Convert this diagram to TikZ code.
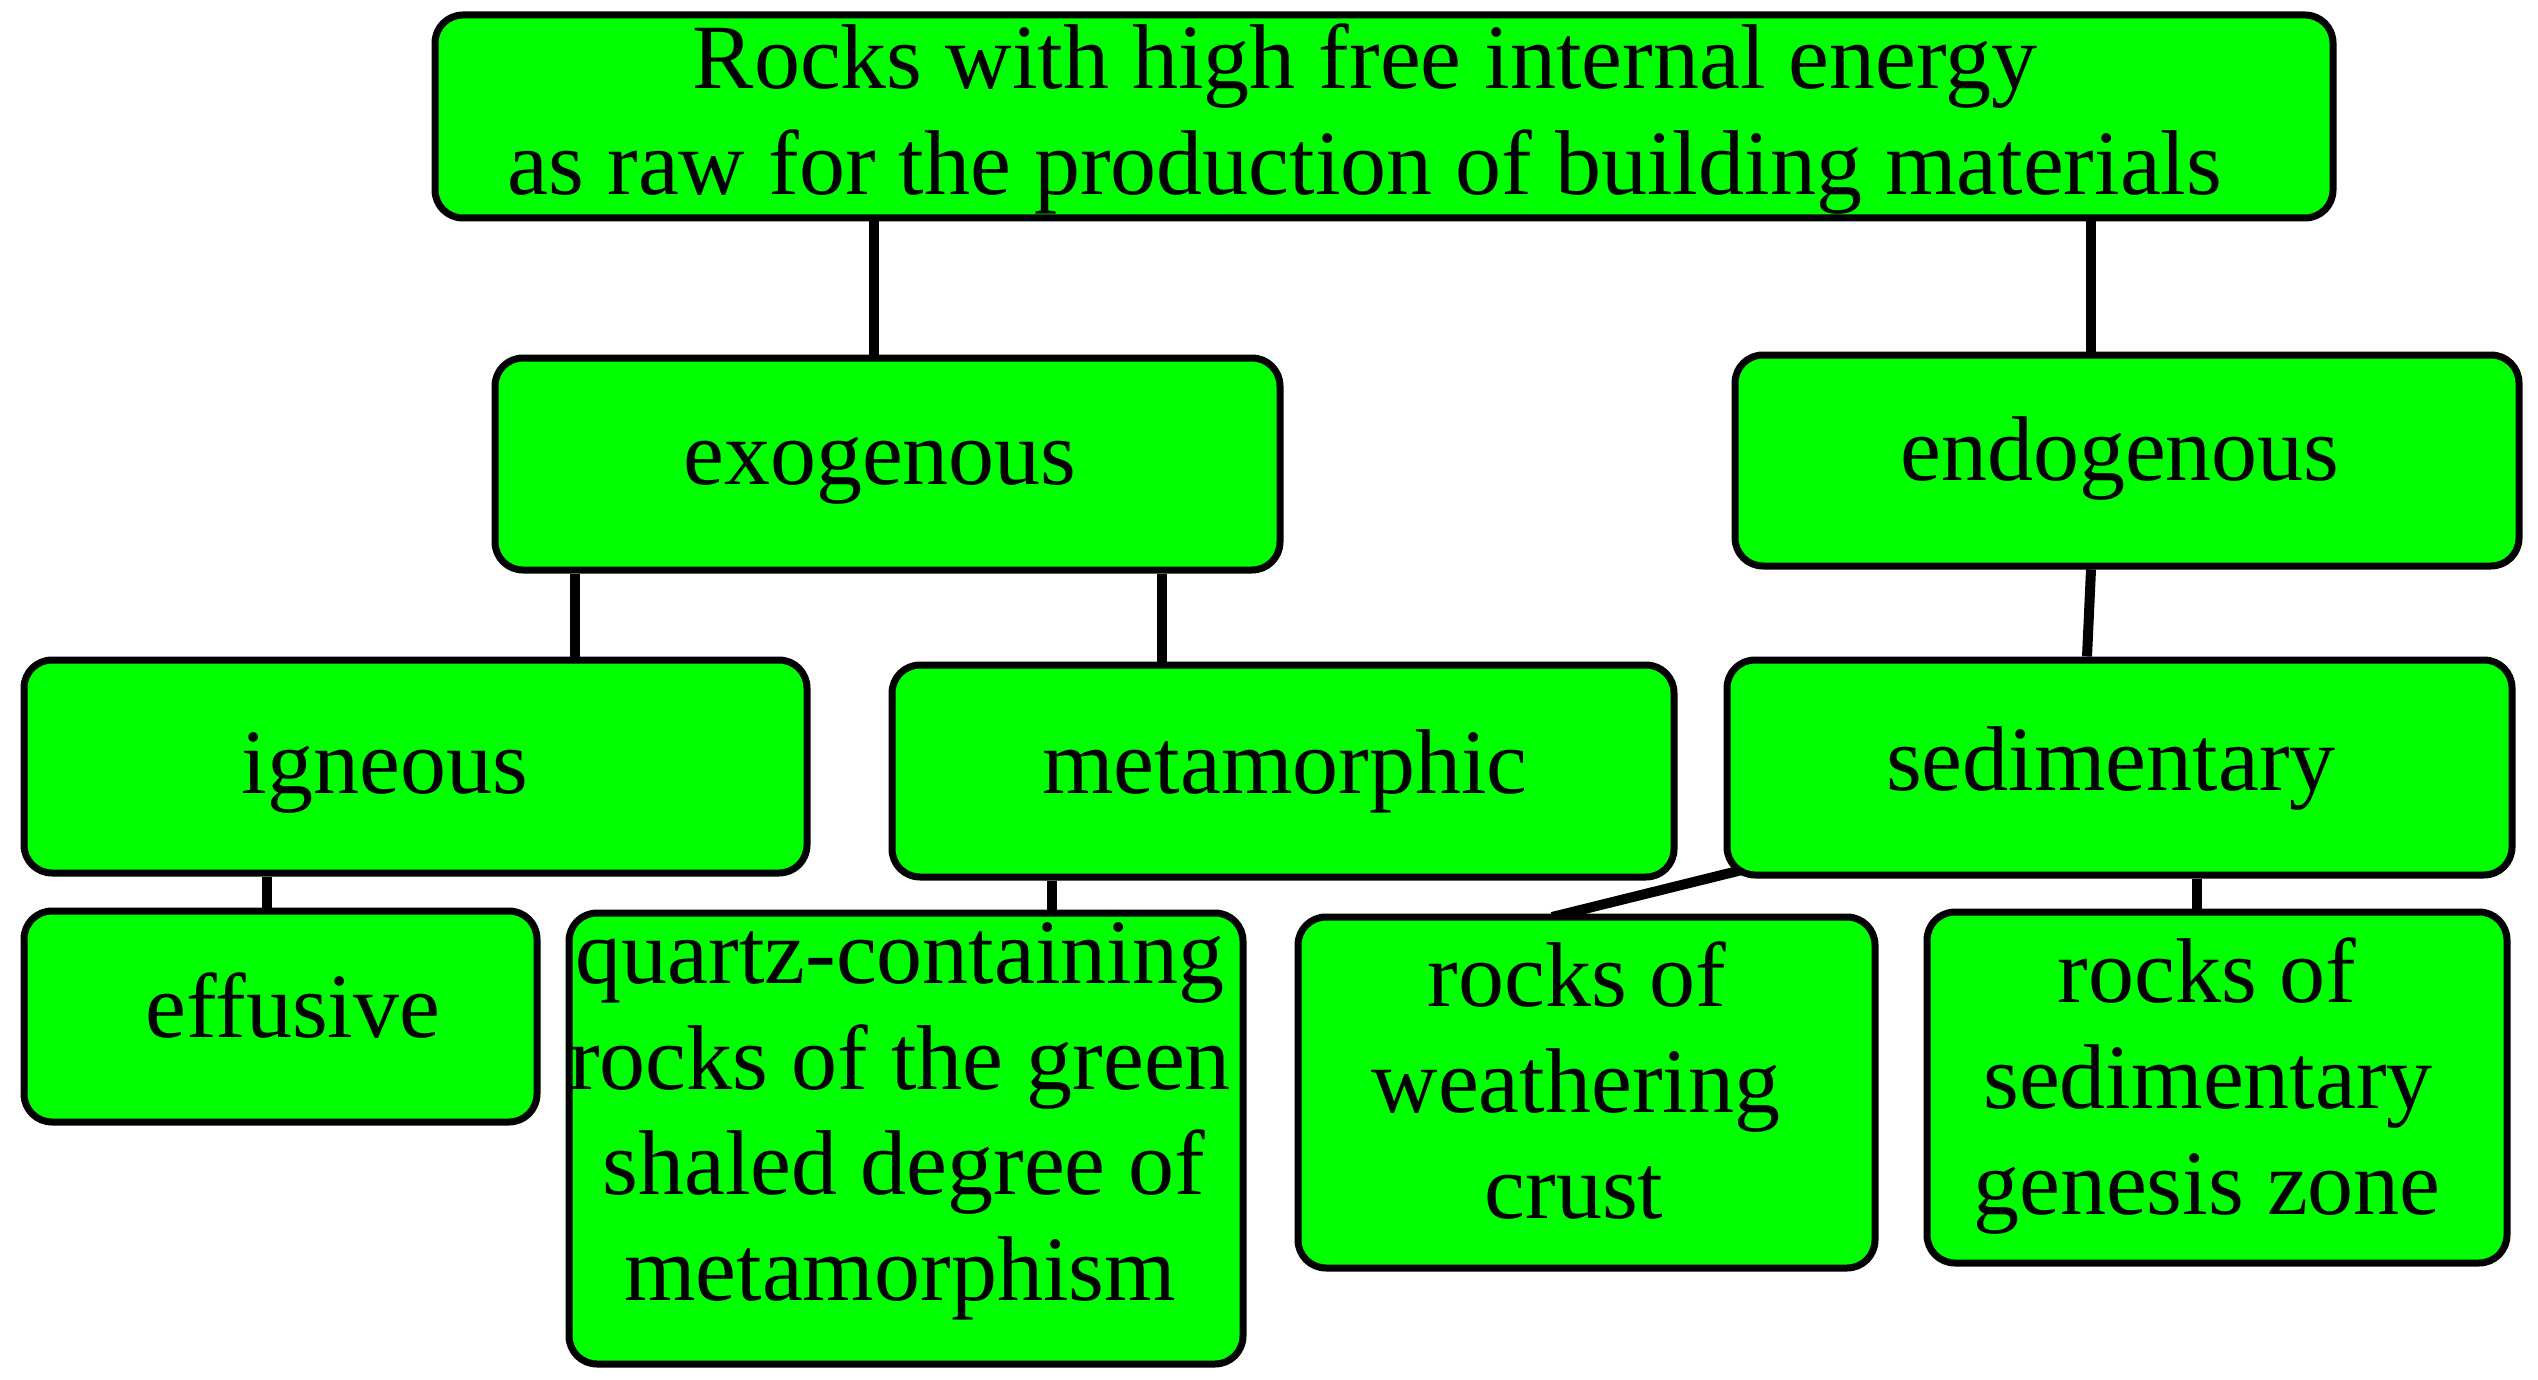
\documentclass[tikz,border=0pt]{standalone}
\usepackage{fontspec}
\setmainfont{Liberation Serif}
\usetikzlibrary{backgrounds}
\definecolor{boxgreen}{HTML}{00FF00}
\tikzset{
  box/.style={draw=black, line width=7pt, fill=boxgreen, rounded corners=28pt, inner sep=0pt},
  lbl/.style={font=\fontsize{92}{106}\selectfont, anchor=base, inner sep=0pt},
  link/.style={draw=black, line width=10pt},
}
\begin{document}
\begin{tikzpicture}[x=1pt,y=-1pt]
\useasboundingbox (0,0) rectangle (2538,1380);
% boxes
\node[box, minimum width=1898pt, minimum height=203pt] (top) at (1384,116.5) {};
\node[box, minimum width=785pt, minimum height=212pt] (exo) at (887.5,464) {};
\node[box, minimum width=784pt, minimum height=211pt] (endo) at (2127,460.5) {};
\node[box, minimum width=783pt, minimum height=213pt] (ign) at (415.5,766.5) {};
\node[box, minimum width=782pt, minimum height=212pt] (meta) at (1283,771) {};
\node[box, minimum width=785pt, minimum height=215pt] (sed) at (2119.5,767.5) {};
\node[box, minimum width=513pt, minimum height=211pt] (eff) at (280.5,1016.5) {};
\node[box, minimum width=674pt, minimum height=451pt] (qtz) at (906,1138.5) {};
\node[box, minimum width=577pt, minimum height=351pt] (wea) at (1586.5,1092.5) {};
\node[box, minimum width=580pt, minimum height=351pt] (gen) at (2217,1087.5) {};
% texts
\node[lbl] (topA) at (1365,89) {Rocks with high free internal energy};
\node[lbl] (topB) at (1365,195) {as raw for the production of building materials};
\node[lbl] (exoT) at (880,484) {exogenous};
\node[lbl] (endoT) at (2120,480) {endogenous};
\node[lbl] (ignT) at (385,793) {igneous};
\node[lbl] (metaT) at (1285,793) {metamorphic};
\node[lbl] (sedT) at (2111,790) {sedimentary};
\node[lbl] (effT) at (293,1037) {effusive};
\node[lbl] (qtzA) at (900,983) {quartz-containing};
\node[lbl] (qtzB) at (900,1089) {rocks of the green};
\node[lbl] (qtzC) at (904,1194) {shaled degree of};
\node[lbl] (qtzD) at (900,1300) {metamorphism};
\node[lbl] (weaA) at (1577,1006) {rocks of};
\node[lbl] (weaB) at (1576,1112) {weathering};
\node[lbl] (weaC) at (1574,1218) {crust};
\node[lbl] (genA) at (2207,1002) {rocks of};
\node[lbl] (genB) at (2208,1108) {sedimentary};
\node[lbl] (genC) at (2207,1214) {genesis zone};
% connector columns
\coordinate (xa) at (874,0);
\coordinate (xb) at (2091,0);
\coordinate (xb2) at (2087,0);
\coordinate (xc) at (575,0);
\coordinate (xd) at (1162,0);
\coordinate (xe) at (267,0);
\coordinate (xf) at (1052,0);
\coordinate (xg) at (2197,0);
\coordinate (sedfoot) at (1742,870);
\coordinate (weahead) at (1552,917);
\begin{scope}[on background layer]
\draw[link] (top.south -| xa) -- (exo.north -| xa);
\draw[link] (top.south -| xb) -- (endo.north -| xb);
\draw[link] (endo.south -| xb) -- (sed.north -| xb2);
\draw[link] (exo.south -| xc) -- (ign.north -| xc);
\draw[link] (exo.south -| xd) -- (meta.north -| xd);
\draw[link] (ign.south -| xe) -- (eff.north -| xe);
\draw[link] (meta.south -| xf) -- (qtz.north -| xf);
\draw[link] (sed.south -| xg) -- (gen.north -| xg);
\draw[link] (sedfoot) -- (weahead);
\end{scope}
\end{tikzpicture}
\end{document}
